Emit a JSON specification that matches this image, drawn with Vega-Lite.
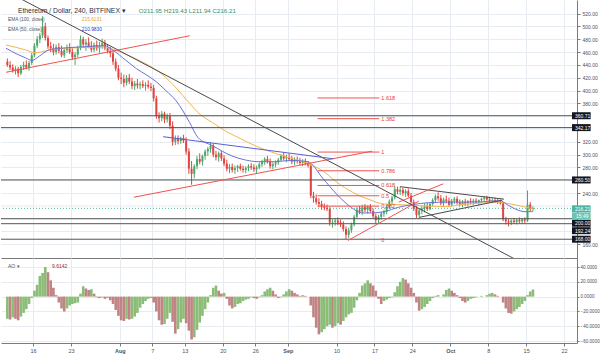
{
"$schema":"https://vega.github.io/schema/vega-lite/v6.json",
"padding":0,
"spacing":0,
"background":"white",
"config":{"view":{"stroke":null},"font":"Liberation Sans","axis":{"labelFont":"Liberation Sans"},"text":{"font":"Liberation Sans"}},
"datasets":{
"bars":[
{"t":0.25,"o":445,"h":450,"l":437,"c":440,"ao":-30},
{"t":0.75,"o":440,"h":446,"l":432,"c":436,"ao":-31},
{"t":1.25,"o":436,"h":441,"l":428,"c":431,"ao":-28},
{"t":1.75,"o":431,"h":438,"l":425,"c":434,"ao":-30},
{"t":2.25,"o":434,"h":437,"l":421,"c":427,"ao":-32},
{"t":2.75,"o":427,"h":440,"l":424,"c":437,"ao":-27},
{"t":3.25,"o":437,"h":445,"l":432,"c":440,"ao":-22},
{"t":3.75,"o":440,"h":447,"l":433,"c":436,"ao":-17},
{"t":4.25,"o":436,"h":446,"l":431,"c":443,"ao":-10},
{"t":4.75,"o":443,"h":459,"l":440,"c":455,"ao":-2},
{"t":5.25,"o":455,"h":474,"l":452,"c":470,"ao":8},
{"t":5.75,"o":470,"h":485,"l":466,"c":480,"ao":16},
{"t":6.25,"o":480,"h":490,"l":474,"c":486,"ao":28},
{"t":6.75,"o":486,"h":516,"l":482,"c":500,"ao":32},
{"t":7.25,"o":500,"h":506,"l":478,"c":482,"ao":40},
{"t":7.75,"o":482,"h":486,"l":465,"c":469,"ao":33},
{"t":8.25,"o":469,"h":476,"l":460,"c":466,"ao":22},
{"t":8.75,"o":466,"h":473,"l":455,"c":460,"ao":12},
{"t":9.25,"o":460,"h":472,"l":456,"c":468,"ao":2},
{"t":9.75,"o":468,"h":474,"l":458,"c":462,"ao":-8},
{"t":10.25,"o":462,"h":470,"l":452,"c":455,"ao":-16},
{"t":10.75,"o":455,"h":466,"l":451,"c":463,"ao":-20},
{"t":11.25,"o":463,"h":472,"l":459,"c":466,"ao":-16},
{"t":11.75,"o":466,"h":474,"l":457,"c":460,"ao":-12},
{"t":12.25,"o":460,"h":466,"l":448,"c":452,"ao":-10},
{"t":12.75,"o":452,"h":460,"l":440,"c":456,"ao":-9},
{"t":13.25,"o":456,"h":470,"l":452,"c":466,"ao":-8},
{"t":13.75,"o":466,"h":486,"l":463,"c":480,"ao":4},
{"t":14.25,"o":480,"h":484,"l":468,"c":472,"ao":14},
{"t":14.75,"o":472,"h":480,"l":462,"c":475,"ao":11},
{"t":15.25,"o":475,"h":483,"l":466,"c":469,"ao":9},
{"t":15.75,"o":469,"h":477,"l":460,"c":464,"ao":10},
{"t":16.25,"o":464,"h":475,"l":460,"c":471,"ao":4},
{"t":16.75,"o":471,"h":478,"l":462,"c":466,"ao":-1},
{"t":17.25,"o":466,"h":476,"l":459,"c":470,"ao":-2},
{"t":17.75,"o":470,"h":481,"l":465,"c":474,"ao":-1},
{"t":18.25,"o":474,"h":479,"l":463,"c":466,"ao":-3},
{"t":18.75,"o":466,"h":472,"l":458,"c":462,"ao":-2},
{"t":19.25,"o":462,"h":468,"l":452,"c":458,"ao":-5},
{"t":19.75,"o":458,"h":462,"l":440,"c":445,"ao":-10},
{"t":20.25,"o":445,"h":450,"l":430,"c":434,"ao":-18},
{"t":20.75,"o":434,"h":440,"l":416,"c":420,"ao":-26},
{"t":21.25,"o":420,"h":428,"l":410,"c":418,"ao":-32},
{"t":21.75,"o":418,"h":425,"l":405,"c":412,"ao":-33},
{"t":22.25,"o":412,"h":424,"l":408,"c":420,"ao":-30},
{"t":22.75,"o":420,"h":426,"l":410,"c":414,"ao":-31},
{"t":23.25,"o":414,"h":420,"l":402,"c":407,"ao":-30},
{"t":23.75,"o":407,"h":415,"l":401,"c":411,"ao":-27},
{"t":24.25,"o":411,"h":418,"l":403,"c":408,"ao":-22},
{"t":24.75,"o":408,"h":414,"l":402,"c":410,"ao":-15},
{"t":25.25,"o":410,"h":416,"l":404,"c":407,"ao":-10},
{"t":25.75,"o":407,"h":413,"l":400,"c":409,"ao":-6},
{"t":26.25,"o":409,"h":416,"l":403,"c":406,"ao":-3},
{"t":26.75,"o":406,"h":412,"l":399,"c":404,"ao":-2},
{"t":27.25,"o":404,"h":409,"l":383,"c":388,"ao":-8},
{"t":27.75,"o":388,"h":392,"l":356,"c":360,"ao":-20},
{"t":28.25,"o":360,"h":366,"l":350,"c":357,"ao":-32},
{"t":28.75,"o":357,"h":368,"l":352,"c":364,"ao":-38},
{"t":29.25,"o":364,"h":367,"l":349,"c":355,"ao":-37},
{"t":29.75,"o":355,"h":364,"l":350,"c":360,"ao":-30},
{"t":30.25,"o":360,"h":365,"l":340,"c":345,"ao":-22},
{"t":30.75,"o":345,"h":352,"l":314,"c":320,"ao":-34},
{"t":31.25,"o":320,"h":330,"l":315,"c":325,"ao":-50},
{"t":31.75,"o":325,"h":330,"l":316,"c":321,"ao":-44},
{"t":32.25,"o":321,"h":328,"l":317,"c":326,"ao":-35},
{"t":32.75,"o":326,"h":331,"l":318,"c":322,"ao":-30},
{"t":33.25,"o":322,"h":327,"l":300,"c":305,"ao":-36},
{"t":33.75,"o":305,"h":310,"l":270,"c":278,"ao":-46},
{"t":34.25,"o":278,"h":290,"l":253,"c":270,"ao":-58},
{"t":34.75,"o":270,"h":285,"l":263,"c":282,"ao":-55},
{"t":35.25,"o":282,"h":298,"l":277,"c":293,"ao":-45},
{"t":35.75,"o":293,"h":302,"l":285,"c":289,"ao":-35},
{"t":36.25,"o":289,"h":300,"l":283,"c":298,"ao":-26},
{"t":36.75,"o":298,"h":308,"l":292,"c":305,"ao":-17},
{"t":37.25,"o":305,"h":312,"l":298,"c":309,"ao":-8},
{"t":37.75,"o":309,"h":319,"l":303,"c":314,"ao":2},
{"t":38.25,"o":314,"h":317,"l":296,"c":300,"ao":12},
{"t":38.75,"o":300,"h":306,"l":291,"c":296,"ao":15},
{"t":39.25,"o":296,"h":305,"l":289,"c":302,"ao":8},
{"t":39.75,"o":302,"h":306,"l":290,"c":294,"ao":4},
{"t":40.25,"o":294,"h":299,"l":282,"c":286,"ao":5},
{"t":40.75,"o":286,"h":292,"l":274,"c":278,"ao":-3},
{"t":41.25,"o":278,"h":285,"l":271,"c":281,"ao":-12},
{"t":41.75,"o":281,"h":286,"l":272,"c":276,"ao":-16},
{"t":42.25,"o":276,"h":283,"l":270,"c":279,"ao":-14},
{"t":42.75,"o":279,"h":284,"l":273,"c":282,"ao":-10},
{"t":43.25,"o":282,"h":286,"l":275,"c":278,"ao":-9},
{"t":43.75,"o":278,"h":283,"l":272,"c":276,"ao":-6},
{"t":44.25,"o":276,"h":282,"l":271,"c":279,"ao":-4},
{"t":44.75,"o":279,"h":285,"l":274,"c":282,"ao":-3},
{"t":45.25,"o":282,"h":287,"l":276,"c":280,"ao":-1},
{"t":45.75,"o":280,"h":285,"l":273,"c":277,"ao":-2},
{"t":46.25,"o":277,"h":283,"l":271,"c":280,"ao":-3},
{"t":46.75,"o":280,"h":288,"l":277,"c":285,"ao":-1},
{"t":47.25,"o":285,"h":292,"l":281,"c":289,"ao":2},
{"t":47.75,"o":289,"h":296,"l":284,"c":293,"ao":7},
{"t":48.25,"o":293,"h":298,"l":286,"c":290,"ao":10},
{"t":48.75,"o":290,"h":294,"l":278,"c":282,"ao":12},
{"t":49.25,"o":282,"h":288,"l":277,"c":285,"ao":8},
{"t":49.75,"o":285,"h":291,"l":280,"c":288,"ao":3},
{"t":50.25,"o":288,"h":295,"l":284,"c":292,"ao":-2},
{"t":50.75,"o":292,"h":301,"l":289,"c":298,"ao":-1},
{"t":51.25,"o":298,"h":303,"l":291,"c":294,"ao":3},
{"t":51.75,"o":294,"h":300,"l":288,"c":296,"ao":7},
{"t":52.25,"o":296,"h":302,"l":290,"c":293,"ao":10},
{"t":52.75,"o":293,"h":298,"l":285,"c":289,"ao":8},
{"t":53.25,"o":289,"h":296,"l":284,"c":292,"ao":5},
{"t":53.75,"o":292,"h":297,"l":286,"c":290,"ao":3},
{"t":54.25,"o":290,"h":295,"l":283,"c":287,"ao":1},
{"t":54.75,"o":287,"h":293,"l":282,"c":289,"ao":2},
{"t":55.25,"o":289,"h":294,"l":283,"c":286,"ao":1},
{"t":55.75,"o":286,"h":290,"l":280,"c":283,"ao":0},
{"t":56.25,"o":283,"h":286,"l":232,"c":236,"ao":-12},
{"t":56.75,"o":236,"h":242,"l":225,"c":232,"ao":-28},
{"t":57.25,"o":232,"h":238,"l":222,"c":226,"ao":-42},
{"t":57.75,"o":226,"h":232,"l":218,"c":223,"ao":-51},
{"t":58.25,"o":223,"h":228,"l":214,"c":219,"ao":-48},
{"t":58.75,"o":219,"h":224,"l":213,"c":217,"ao":-44},
{"t":59.25,"o":217,"h":222,"l":212,"c":215,"ao":-40},
{"t":59.75,"o":215,"h":218,"l":189,"c":194,"ao":-38},
{"t":60.25,"o":194,"h":199,"l":186,"c":195,"ao":-42},
{"t":60.75,"o":195,"h":201,"l":189,"c":197,"ao":-40},
{"t":61.25,"o":197,"h":202,"l":190,"c":194,"ao":-36},
{"t":61.75,"o":194,"h":199,"l":187,"c":191,"ao":-38},
{"t":62.25,"o":191,"h":196,"l":180,"c":184,"ao":-33},
{"t":62.75,"o":184,"h":188,"l":167,"c":175,"ao":-28},
{"t":63.25,"o":175,"h":186,"l":170,"c":182,"ao":-24},
{"t":63.75,"o":182,"h":194,"l":178,"c":191,"ao":-22},
{"t":64.25,"o":191,"h":206,"l":188,"c":203,"ao":-15},
{"t":64.75,"o":203,"h":218,"l":200,"c":214,"ao":-5},
{"t":65.25,"o":214,"h":220,"l":207,"c":211,"ao":5},
{"t":65.75,"o":211,"h":222,"l":206,"c":218,"ao":15},
{"t":66.25,"o":218,"h":223,"l":210,"c":214,"ao":18},
{"t":66.75,"o":214,"h":221,"l":208,"c":219,"ao":22},
{"t":67.25,"o":219,"h":223,"l":209,"c":212,"ao":18},
{"t":67.75,"o":212,"h":216,"l":200,"c":204,"ao":15},
{"t":68.25,"o":204,"h":208,"l":193,"c":198,"ao":8},
{"t":68.75,"o":198,"h":206,"l":193,"c":203,"ao":-3},
{"t":69.25,"o":203,"h":211,"l":198,"c":208,"ao":-10},
{"t":69.75,"o":208,"h":214,"l":203,"c":211,"ao":-6},
{"t":70.25,"o":211,"h":222,"l":207,"c":219,"ao":-4},
{"t":70.75,"o":219,"h":230,"l":215,"c":227,"ao":-2},
{"t":71.25,"o":227,"h":236,"l":223,"c":233,"ao":-1},
{"t":71.75,"o":233,"h":251,"l":230,"c":246,"ao":6},
{"t":72.25,"o":246,"h":250,"l":238,"c":242,"ao":14},
{"t":72.75,"o":242,"h":249,"l":237,"c":245,"ao":20},
{"t":73.25,"o":245,"h":248,"l":236,"c":240,"ao":25},
{"t":73.75,"o":240,"h":246,"l":234,"c":243,"ao":23},
{"t":74.25,"o":243,"h":247,"l":233,"c":236,"ao":18},
{"t":74.75,"o":236,"h":240,"l":222,"c":226,"ao":12},
{"t":75.25,"o":226,"h":230,"l":212,"c":216,"ao":5},
{"t":75.75,"o":216,"h":221,"l":201,"c":206,"ao":-8},
{"t":76.25,"o":206,"h":216,"l":203,"c":213,"ao":-19},
{"t":76.75,"o":213,"h":220,"l":207,"c":216,"ao":-17},
{"t":77.25,"o":216,"h":224,"l":210,"c":220,"ao":-14},
{"t":77.75,"o":220,"h":225,"l":212,"c":215,"ao":-10},
{"t":78.25,"o":215,"h":226,"l":213,"c":223,"ao":-6},
{"t":78.75,"o":223,"h":232,"l":220,"c":229,"ao":-2},
{"t":79.25,"o":229,"h":238,"l":225,"c":235,"ao":1},
{"t":79.75,"o":235,"h":241,"l":228,"c":232,"ao":2},
{"t":80.25,"o":232,"h":237,"l":221,"c":224,"ao":0},
{"t":80.75,"o":224,"h":233,"l":220,"c":230,"ao":3},
{"t":81.25,"o":230,"h":236,"l":224,"c":228,"ao":9},
{"t":81.75,"o":228,"h":233,"l":219,"c":222,"ao":11},
{"t":82.25,"o":222,"h":231,"l":219,"c":228,"ao":8},
{"t":82.75,"o":228,"h":234,"l":223,"c":231,"ao":5},
{"t":83.25,"o":231,"h":235,"l":222,"c":225,"ao":2},
{"t":83.75,"o":225,"h":230,"l":219,"c":223,"ao":-2},
{"t":84.25,"o":223,"h":229,"l":218,"c":226,"ao":-6},
{"t":84.75,"o":226,"h":231,"l":220,"c":224,"ao":-8},
{"t":85.25,"o":224,"h":229,"l":219,"c":227,"ao":-6},
{"t":85.75,"o":227,"h":232,"l":222,"c":226,"ao":-3},
{"t":86.25,"o":226,"h":231,"l":221,"c":228,"ao":-2},
{"t":86.75,"o":228,"h":232,"l":223,"c":226,"ao":-1},
{"t":87.25,"o":226,"h":230,"l":221,"c":229,"ao":0},
{"t":87.75,"o":229,"h":233,"l":225,"c":231,"ao":1},
{"t":88.25,"o":231,"h":235,"l":227,"c":233,"ao":0},
{"t":88.75,"o":233,"h":236,"l":228,"c":230,"ao":2},
{"t":89.25,"o":230,"h":234,"l":225,"c":228,"ao":4},
{"t":89.75,"o":228,"h":232,"l":224,"c":229,"ao":5},
{"t":90.25,"o":229,"h":233,"l":225,"c":227,"ao":3},
{"t":90.75,"o":227,"h":231,"l":223,"c":226,"ao":1},
{"t":91.25,"o":226,"h":230,"l":222,"c":224,"ao":0},
{"t":91.75,"o":224,"h":226,"l":196,"c":199,"ao":-8},
{"t":92.25,"o":199,"h":203,"l":191,"c":196,"ao":-16},
{"t":92.75,"o":196,"h":200,"l":188,"c":194,"ao":-22},
{"t":93.25,"o":194,"h":199,"l":190,"c":197,"ao":-23},
{"t":93.75,"o":197,"h":201,"l":192,"c":195,"ao":-20},
{"t":94.25,"o":195,"h":200,"l":191,"c":198,"ao":-17},
{"t":94.75,"o":198,"h":202,"l":193,"c":196,"ao":-14},
{"t":95.25,"o":196,"h":201,"l":192,"c":199,"ao":-10},
{"t":95.75,"o":199,"h":202,"l":193,"c":197,"ao":-6},
{"t":96.25,"o":197,"h":244,"l":195,"c":222,"ao":2},
{"t":96.75,"o":222,"h":226,"l":212,"c":215,"ao":7},
{"t":97.25,"o":215,"h":219.43,"l":211.94,"c":216.21,"ao":9.6142}
],
"ema100":[
{"t":0,"v":471},{"t":3.6,"v":463.5},{"t":5.4,"v":459},{"t":9.1,"v":465},{"t":14,"v":467},{"t":18.1,"v":468},{"t":19.9,"v":464},{"t":22,"v":457},{"t":24.1,"v":449},{"t":27,"v":436},{"t":29,"v":424},{"t":31.4,"v":404},{"t":33.9,"v":380},{"t":35.4,"v":366},{"t":38.1,"v":350},{"t":40.7,"v":336},{"t":43.5,"v":324},{"t":46.2,"v":313},{"t":49,"v":304},{"t":52,"v":296},{"t":54.4,"v":290},{"t":56.5,"v":283},{"t":58.6,"v":274},{"t":60.3,"v":262},{"t":61.7,"v":253},{"t":63.2,"v":245},{"t":64.7,"v":238},{"t":67,"v":230},{"t":69.8,"v":223},{"t":72.3,"v":222},{"t":74.9,"v":221},{"t":78,"v":219.5},{"t":81.1,"v":219},{"t":84,"v":222},{"t":87,"v":224},{"t":89.5,"v":225.5},{"t":91.2,"v":226},{"t":92.5,"v":224},{"t":94.3,"v":221},{"t":96,"v":218},{"t":97.25,"v":215.6}
],
"ema50":[
{"t":0,"v":466},{"t":2,"v":457},{"t":3.6,"v":451},{"t":4.8,"v":447},{"t":6.2,"v":454},{"t":7.8,"v":463},{"t":10,"v":466},{"t":14,"v":468},{"t":18.1,"v":470},{"t":19.9,"v":462},{"t":22,"v":448},{"t":24.1,"v":434},{"t":26,"v":424},{"t":27.7,"v":414},{"t":29.5,"v":400},{"t":31.4,"v":384},{"t":33.9,"v":350},{"t":35.4,"v":327},{"t":38.1,"v":314},{"t":41.7,"v":298},{"t":44,"v":292},{"t":46.6,"v":289},{"t":49.5,"v":289},{"t":52.6,"v":291},{"t":55.7,"v":289},{"t":57,"v":280},{"t":58,"v":268},{"t":59.2,"v":256},{"t":60.4,"v":244},{"t":62,"v":230},{"t":63.5,"v":219},{"t":65.8,"v":209},{"t":67.5,"v":209},{"t":69.8,"v":211},{"t":72.5,"v":218},{"t":75,"v":222},{"t":78,"v":225},{"t":82,"v":226},{"t":87,"v":226},{"t":89.5,"v":227.5},{"t":91.2,"v":228},{"t":92.5,"v":222},{"t":94.3,"v":214},{"t":95.8,"v":211},{"t":97.25,"v":211}
],
"grayLines":[
{"id":"a","t":2,"p":546.4},{"id":"a","t":94,"p":136.7},
{"id":"b","t":72.7,"p":250},{"id":"b","t":91.9,"p":230.5},
{"id":"c","t":76.2,"p":202},{"id":"c","t":91.6,"p":229}
],
"redLines":[
{"id":"a","t":0,"p":428.5},{"id":"a","t":33.9,"p":485.5},
{"id":"b","t":23.6,"p":233.5},{"id":"b","t":67.6,"p":305.5},
{"id":"c","t":63.1,"p":166},{"id":"c","t":76.2,"p":227.5},
{"id":"d","t":72.5,"p":226},{"id":"d","t":80.7,"p":254.5}
],
"blueLines":[
{"id":"a","t":29,"p":328},{"id":"a","t":60.4,"p":293.5}
],
"fib":[
{"lab":"1.618","p":388.4,"t1":57.5,"t2":68.9},
{"lab":"1.382","p":356.1,"t1":57.5,"t2":68.9},
{"lab":"1","p":304,"t1":57.5,"t2":68.9},
{"lab":"0.786","p":274.8,"t1":57.5,"t2":68.9},
{"lab":"0.618","p":251.9,"t1":57.5,"t2":68.9},
{"lab":"0.5","p":235.8,"t1":57.5,"t2":68.9},
{"lab":"0.382","p":219.6,"t1":57.5,"t2":68.9},
{"lab":"0","p":167.5,"t1":57.5,"t2":68.9}
],
"hlines":[{"p":360.71},{"p":342.17},{"p":260.5},{"p":200},{"p":192.24},{"p":168}]
},
"vconcat":[
{
"width":576,"height":258,
"resolve":{"axis":{"x":"independent","y":"independent"}},
"layer":[
{"data":{"values":[{"p":216.21}]},"mark":{"type":"rule","strokeDash":[1,2],"color":"#4fb3a0","strokeWidth":1},
 "encoding":{"y":{"field":"p","type":"quantitative","scale":{"domain":[146.5,533.5],"nice":false,"zero":false},
   "axis":{"orient":"right","values":[160,240,280,300,320,380,400,420,440,460,480,500,520],"format":".2f","grid":true,"gridColor":"#e6ecf2","labelFontSize":5,"labelColor":"#4c525e","labelOverlap":false,"tickSize":3,"tickColor":"#7a7a7a","domainColor":"#7a7a7a","labelPadding":2,"title":null}}}},
{"data":{"values":[{"p":180},{"p":200},{"p":220},{"p":260},{"p":340},{"p":360}]},"mark":{"type":"rule","color":"#e6ecf2","strokeWidth":1},
 "encoding":{"y":{"field":"p","type":"quantitative","scale":{"domain":[146.5,533.5],"nice":false,"zero":false},"axis":null}}},
{"data":{"name":"bars"},"mark":{"type":"rule","strokeWidth":1},
 "encoding":{
  "x":{"field":"t","type":"quantitative","scale":{"domain":[0,104.46],"nice":false,"zero":false},
   "axis":{"grid":true,"gridColor":"#e6ecf2","labels":false,"ticks":false,"domain":true,"domainColor":"#7a7a7a","values":[5,12,21,27,33,40,46,52,61,68,75,82,89,96,103],"title":null}},
  "y":{"field":"l","type":"quantitative","scale":{"domain":[146.5,533.5],"nice":false,"zero":false},"axis":null},
  "y2":{"field":"h"},
  "color":{"condition":{"test":"datum.c >= datum.o","value":"#4fa66a"},"value":"#e0453f"}}},
{"data":{"name":"bars"},"mark":{"type":"bar","size":2,"orient":"vertical"},
 "encoding":{
  "x":{"field":"t","type":"quantitative","scale":{"domain":[0,104.46],"nice":false,"zero":false},"axis":null},
  "y":{"field":"o","type":"quantitative","scale":{"domain":[146.5,533.5],"nice":false,"zero":false},"axis":null},
  "y2":{"field":"c"},
  "color":{"condition":{"test":"datum.c >= datum.o","value":"#4fa66a"},"value":"#e0453f"}}},
{"data":{"name":"ema100"},"mark":{"type":"line","color":"#f2b552","strokeWidth":1,"interpolate":"monotone"},
 "encoding":{"x":{"field":"t","type":"quantitative","scale":{"domain":[0,104.46],"nice":false,"zero":false},"axis":null},
  "y":{"field":"v","type":"quantitative","scale":{"domain":[146.5,533.5],"nice":false,"zero":false},"axis":null}}},
{"data":{"name":"ema50"},"mark":{"type":"line","color":"#6d70d8","strokeWidth":1,"interpolate":"monotone"},
 "encoding":{"x":{"field":"t","type":"quantitative","scale":{"domain":[0,104.46],"nice":false,"zero":false},"axis":null},
  "y":{"field":"v","type":"quantitative","scale":{"domain":[146.5,533.5],"nice":false,"zero":false},"axis":null}}},
{"data":{"name":"hlines"},"mark":{"type":"rule","color":"#555555","strokeWidth":1},
 "encoding":{"y":{"field":"p","type":"quantitative","scale":{"domain":[146.5,533.5],"nice":false,"zero":false},"axis":null}}},
{"data":{"name":"fib"},"mark":{"type":"rule","color":"#ef5350","strokeWidth":1},
 "encoding":{"x":{"field":"t1","type":"quantitative","scale":{"domain":[0,104.46],"nice":false,"zero":false},"axis":null},
  "x2":{"field":"t2"},
  "y":{"field":"p","type":"quantitative","scale":{"domain":[146.5,533.5],"nice":false,"zero":false},"axis":null}}},
{"data":{"name":"fib"},"mark":{"type":"text","align":"left","baseline":"middle","fontSize":5.5,"color":"#e53935","dx":2},
 "encoding":{"x":{"field":"t2","type":"quantitative","scale":{"domain":[0,104.46],"nice":false,"zero":false},"axis":null},
  "y":{"field":"p","type":"quantitative","scale":{"domain":[146.5,533.5],"nice":false,"zero":false},"axis":null},
  "text":{"field":"lab"}}},
{"data":{"name":"grayLines"},"mark":{"type":"line","color":"#4a4a4a","strokeWidth":1,"clip":true},
 "encoding":{"x":{"field":"t","type":"quantitative","scale":{"domain":[0,104.46],"nice":false,"zero":false},"axis":null},
  "y":{"field":"p","type":"quantitative","scale":{"domain":[146.5,533.5],"nice":false,"zero":false},"axis":null},
  "detail":{"field":"id"}}},
{"data":{"name":"redLines"},"mark":{"type":"line","color":"#ef5350","strokeWidth":1,"clip":true},
 "encoding":{"x":{"field":"t","type":"quantitative","scale":{"domain":[0,104.46],"nice":false,"zero":false},"axis":null},
  "y":{"field":"p","type":"quantitative","scale":{"domain":[146.5,533.5],"nice":false,"zero":false},"axis":null},
  "detail":{"field":"id"}}},
{"data":{"name":"blueLines"},"mark":{"type":"line","color":"#5560d0","strokeWidth":1,"clip":true},
 "encoding":{"x":{"field":"t","type":"quantitative","scale":{"domain":[0,104.46],"nice":false,"zero":false},"axis":null},
  "y":{"field":"p","type":"quantitative","scale":{"domain":[146.5,533.5],"nice":false,"zero":false},"axis":null},
  "detail":{"field":"id"}}},
{"data":{"values":[{"p":360.71,"lab":"360.71"},{"p":342.17,"lab":"342.17"},{"p":260.5,"lab":"260.50"},{"p":168,"lab":"168.00"}]},
 "mark":{"type":"bar","orient":"horizontal","size":7,"color":"#131722"},
 "encoding":{"x":{"datum":104.46,"type":"quantitative","axis":null},"x2":{"datum":107.9},"y":{"field":"p","type":"quantitative","axis":null}}},
{"data":{"values":[{"p":360.71,"lab":"360.71"},{"p":342.17,"lab":"342.17"},{"p":260.5,"lab":"260.50"},{"p":168,"lab":"168.00"}]},
 "mark":{"type":"text","align":"left","baseline":"middle","dx":3,"fontSize":5,"color":"white"},
 "encoding":{"x":{"datum":104.46,"type":"quantitative","axis":null},"y":{"field":"p","type":"quantitative","axis":null},"text":{"field":"lab"}}},
{"data":{"values":[{"p":200,"lab":"200.00"}]},
 "mark":{"type":"bar","orient":"horizontal","size":7,"color":"#131722","yOffset":4.5},
 "encoding":{"x":{"datum":104.46,"type":"quantitative","axis":null},"x2":{"datum":107.9},"y":{"field":"p","type":"quantitative","axis":null}}},
{"data":{"values":[{"p":200,"lab":"200.00"}]},
 "mark":{"type":"text","align":"left","baseline":"middle","dx":3,"dy":4.5,"fontSize":5,"color":"white"},
 "encoding":{"x":{"datum":104.46,"type":"quantitative","axis":null},"y":{"field":"p","type":"quantitative","axis":null},"text":{"field":"lab"}}},
{"data":{"values":[{"p":192.24,"lab":"192.24"}]},
 "mark":{"type":"bar","orient":"horizontal","size":7,"color":"#131722","yOffset":7},
 "encoding":{"x":{"datum":104.46,"type":"quantitative","axis":null},"x2":{"datum":107.9},"y":{"field":"p","type":"quantitative","axis":null}}},
{"data":{"values":[{"p":192.24,"lab":"192.24"}]},
 "mark":{"type":"text","align":"left","baseline":"middle","dx":3,"dy":7,"fontSize":5,"color":"white"},
 "encoding":{"x":{"datum":104.46,"type":"quantitative","axis":null},"y":{"field":"p","type":"quantitative","axis":null},"text":{"field":"lab"}}},
{"data":{"values":[{"p":216.21,"lab":"216.21","cd":"15:49"}]},
 "mark":{"type":"bar","orient":"horizontal","size":7,"color":"#4fb3a0","yOffset":0.5},
 "encoding":{"x":{"datum":104.46,"type":"quantitative","axis":null},"x2":{"datum":107.9},"y":{"field":"p","type":"quantitative","axis":null}}},
{"data":{"values":[{"p":216.21,"lab":"216.21","cd":"15:49"}]},
 "mark":{"type":"bar","orient":"horizontal","size":7,"color":"#6cc4b2","yOffset":7.7},
 "encoding":{"x":{"datum":104.46,"type":"quantitative","axis":null},"x2":{"datum":107.9},"y":{"field":"p","type":"quantitative","axis":null}}},
{"data":{"values":[{"p":216.21,"lab":"216.21","cd":"15:49"}]},
 "mark":{"type":"text","align":"left","baseline":"middle","dx":3,"dy":0.5,"fontSize":5,"color":"white"},
 "encoding":{"x":{"datum":104.46,"type":"quantitative","axis":null},"y":{"field":"p","type":"quantitative","axis":null},"text":{"field":"lab"}}},
{"data":{"values":[{"p":216.21,"lab":"216.21","cd":"15:49"}]},
 "mark":{"type":"text","align":"left","baseline":"middle","dx":4,"dy":7.7,"fontSize":5,"color":"white"},
 "encoding":{"x":{"datum":104.46,"type":"quantitative","axis":null},"y":{"field":"p","type":"quantitative","axis":null},"text":{"field":"cd"}}},
{"data":{"values":[{}]},"mark":{"type":"text","text":"Ethereum / Dollar, 240, BITFINEX ▾","align":"left","baseline":"middle","fontSize":6.8,"color":"#2a2e39"},
 "encoding":{"x":{"datum":2.2,"type":"quantitative","axis":null},"y":{"datum":524.5,"type":"quantitative","axis":null}}},
{"data":{"values":[{}]},"mark":{"type":"text","text":"O211.95 H219.43 L211.94 C216.21","align":"left","baseline":"middle","fontSize":6.2,"color":"#3a8f60"},
 "encoding":{"x":{"datum":24.5,"type":"quantitative","axis":null},"y":{"datum":524.5,"type":"quantitative","axis":null}}},
{"data":{"values":[{}]},"mark":{"type":"text","text":"EMA (100, close)","align":"left","baseline":"middle","fontSize":4.8,"color":"#555555"},
 "encoding":{"x":{"datum":0.36,"type":"quantitative","axis":null},"y":{"datum":509.5,"type":"quantitative","axis":null}}},
{"data":{"values":[{}]},"mark":{"type":"text","text":"215.6131","align":"left","baseline":"middle","fontSize":4.8,"color":"#eea21c"},
 "encoding":{"x":{"datum":14,"type":"quantitative","axis":null},"y":{"datum":509.5,"type":"quantitative","axis":null}}},
{"data":{"values":[{}]},"mark":{"type":"text","text":"EMA (50, close)","align":"left","baseline":"middle","fontSize":4.8,"color":"#555555"},
 "encoding":{"x":{"datum":0.36,"type":"quantitative","axis":null},"y":{"datum":494.5,"type":"quantitative","axis":null}}},
{"data":{"values":[{}]},"mark":{"type":"text","text":"210.9830","align":"left","baseline":"middle","fontSize":4.8,"color":"#3434c8"},
 "encoding":{"x":{"datum":14,"type":"quantitative","axis":null},"y":{"datum":494.5,"type":"quantitative","axis":null}}}
]
},
{
"width":576,"height":85,
"resolve":{"axis":{"x":"independent","y":"independent"}},
"layer":[
{"data":{"name":"bars"},
 "transform":[{"window":[{"op":"lag","field":"ao","as":"prev"}],"sort":[{"field":"t"}]}],
 "mark":{"type":"bar","size":2.65,"orient":"vertical"},
 "encoding":{
  "x":{"field":"t","type":"quantitative","scale":{"domain":[0,104.46],"nice":false,"zero":false},
   "axis":{"orient":"bottom","values":[5,12,21,27,33,40,46,52,61,68,75,82,89,96,103],
    "labelExpr":"['16','23','Aug','7','13','20','26','Sep','10','17','24','Oct','8','15','22'][indexof([5,12,21,27,33,40,46,52,61,68,75,82,89,96,103], datum.value)]",
    "labelFontSize":5.5,"labelColor":"#4c525e","labelFontWeight":{"condition":{"test":"datum.value == 21 || datum.value == 52 || datum.value == 82","value":"bold"},"value":"normal"},
    "labelPadding":2,"labelFlush":false,"labelOverlap":false,"tickSize":3,"tickColor":"#7a7a7a","domainColor":"#7a7a7a","grid":true,"gridColor":"#e6ecf2","title":null}},
  "y":{"field":"ao","type":"quantitative","scale":{"domain":[-62.7,52.2],"nice":false,"zero":false},
   "axis":{"orient":"right","values":[40,20,0,-20,-40,-60],"format":".4f","grid":true,"gridColor":"#e6ecf2","labelFontSize":4.6,"labelColor":"#4c525e","labelOverlap":false,"tickSize":2,"tickColor":"#7a7a7a","domainColor":"#7a7a7a","labelPadding":1,"title":null}},
  "y2":{"datum":0},
  "color":{"condition":{"test":"datum.prev == null || datum.ao >= datum.prev","value":"#8cbd78"},"value":"#c08484"}}},
{"data":{"values":[{}]},"mark":{"type":"text","text":"AO ▾","align":"left","baseline":"middle","fontSize":5,"color":"#555555"},
 "encoding":{"x":{"datum":0.36,"type":"quantitative","axis":null},"y":{"datum":41.4,"type":"quantitative","axis":null}}},
{"data":{"values":[{}]},"mark":{"type":"text","text":"9.6142","align":"left","baseline":"middle","fontSize":5,"color":"#9c2a2a"},
 "encoding":{"x":{"datum":8.5,"type":"quantitative","axis":null},"y":{"datum":41.4,"type":"quantitative","axis":null}}}
]
}
]
}
